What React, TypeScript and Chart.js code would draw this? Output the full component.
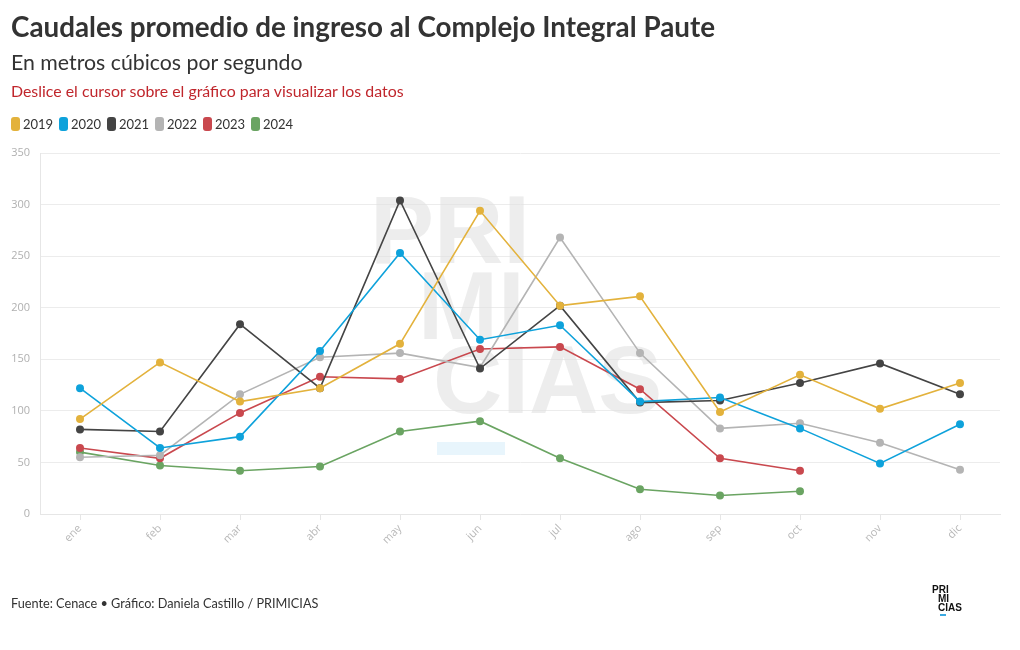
import React, { useEffect, useRef } from "react";
import { Chart, registerables } from "chart.js";

Chart.register(...registerables);

const months = ["ene", "feb", "mar", "abr", "may", "jun", "jul", "ago", "sep", "oct", "nov", "dic"];
const yTicks = [0, 50, 100, 150, 200, 250, 300, 350];

const years = ["2019", "2020", "2021", "2022", "2023", "2024"];
const colors = ["#e3b23c", "#0ea2db", "#444444", "#b4b4b4", "#c9484e", "#6aa462"];

const v2019 = [92, 147, 109, 122, 165, 294, 202, 211, 99, 135, 102, 127];
const v2020 = [122, 64, 75, 158, 253, 169, 183, 109, 113, 83, 49, 87];
const v2021 = [82, 80, 184, 122, 304, 141, 202, 108, 110, 127, 146, 116];
const v2022 = [55, 57, 116, 152, 156, 142, 268, 156, 83, 88, 69, 43];
const v2023 = [64, 54, 98, 133, 131, 160, 162, 121, 54, 42, null, null];
const v2024 = [60, 47, 42, 46, 80, 90, 54, 24, 18, 22, null, null];

const seriesValues = [v2019, v2020, v2021, v2022, v2023, v2024];

const watermark = {
  id: "watermark",
  beforeDatasetsDraw(chart: any) {
    const ctx = chart.ctx;
    ctx.save();
    ctx.fillStyle = "rgba(225,225,225,0.6)";
    ctx.font = "bold 96px 'Liberation Sans', Arial, sans-serif";
    ctx.textBaseline = "alphabetic";
    ctx.fillText("PRI", 370, 263);
    ctx.fillText("MI", 418, 339);
    ctx.fillText("CIAS", 433, 413);
    ctx.fillStyle = "rgba(190,225,245,0.35)";
    ctx.fillRect(437, 442, 68, 13);
    ctx.restore();
  },
};

export default function App() {
  const ref = useRef<HTMLCanvasElement>(null);
  useEffect(() => {
    document.body.style.margin = "0";
    const chart = new Chart(ref.current!, {
      type: "line",
      data: {
        labels: months,
        datasets: years.map((y, i) => ({
          label: y,
          data: seriesValues[i],
          borderColor: colors[i],
          backgroundColor: colors[i],
          borderWidth: 1.6,
          pointRadius: 4,
          pointBorderWidth: 0,
          pointBackgroundColor: colors[i],
          tension: 0,
          spanGaps: false,
        })),
      },
      options: {
        animation: false,
        responsive: false,
        layout: { padding: { top: 153, bottom: 86, right: 20, left: 0 } },
        plugins: { legend: { display: false }, tooltip: { enabled: false } },
        scales: {
          x: {
            offset: true,
            grid: { drawOnChartArea: false, drawTicks: true, tickLength: 6, color: "#e6e6e6" },
            border: { color: "#e6e6e6" },
            ticks: {
              maxRotation: 45,
              minRotation: 45,
              color: "#b8b8b8",
              font: { family: "'Open Sans', sans-serif", size: 11 },
              padding: 2,
            },
            afterFit: (s: any) => { s.height = 50; },
          },
          y: {
            min: 0,
            max: 350,
            afterBuildTicks: (s: any) => { s.ticks = yTicks.map((v) => ({ value: v })); },
            grid: { color: "#ececec", drawTicks: false },
            border: { color: "#e6e6e6" },
            ticks: {
              color: "#b0b0b0",
              font: { family: "'Open Sans', sans-serif", size: 11 },
              padding: 10,
            },
            afterFit: (s: any) => { s.width = 40; },
          },
        },
      },
      plugins: [watermark],
    });
    return () => chart.destroy();
  }, []);

  const font = "Lato, 'Open Sans', sans-serif";
  return (
    <div style={{ position: "relative", width: 1020, height: 650, background: "#fff", fontFamily: font, color: "#333" }}>
      <canvas ref={ref} width={1020} height={650} style={{ position: "absolute", left: 0, top: 0 }} />
      <div style={{ position: "absolute", left: 11, top: 10, fontSize: 27.8, fontWeight: 700, whiteSpace: "nowrap" }}>
        Caudales promedio de ingreso al Complejo Integral Paute
      </div>
      <div style={{ position: "absolute", left: 11, top: 49, fontSize: 21.3, whiteSpace: "nowrap" }}>
        En metros cúbicos por segundo
      </div>
      <div style={{ position: "absolute", left: 11, top: 81, fontSize: 15.9, color: "#c0262c", whiteSpace: "nowrap" }}>
        Deslice el cursor sobre el gráfico para visualizar los datos
      </div>
      {years.map((y, i) => (
        <div key={y} style={{ position: "absolute", left: 11 + i * 48, top: 117, height: 14, display: "flex", alignItems: "center", fontSize: 13, whiteSpace: "nowrap" }}>
          <span style={{ display: "inline-block", width: 9, height: 14, borderRadius: 3, background: colors[i], marginRight: 3 }} />
          <span>{y}</span>
        </div>
      ))}
      <div style={{ position: "absolute", left: 11, top: 595, fontSize: 12.7, whiteSpace: "nowrap" }}>
        Fuente: Cenace • Gráfico: Daniela Castillo / PRIMICIAS
      </div>
      <div style={{ position: "absolute", left: 932, top: 585, fontSize: 10, fontWeight: 800, lineHeight: "9px", color: "#111", fontFamily: "'Liberation Sans', sans-serif" }}>
        <div>PRI</div>
        <div style={{ paddingLeft: 6 }}>MI</div>
        <div style={{ paddingLeft: 6 }}>CIAS</div>
        <div style={{ marginLeft: 8, marginTop: 2, width: 6, height: 2, background: "#3aa8e0" }} />
      </div>
    </div>
  );
}
